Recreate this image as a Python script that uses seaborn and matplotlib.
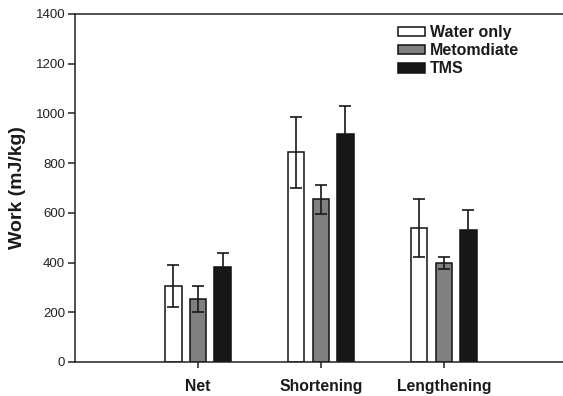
import matplotlib
matplotlib.use("Agg")
import matplotlib.pyplot as plt
import seaborn as sns
import pandas as pd
import numpy as np

# ---- data ----
categories = ["Net", "Shortening", "Lengthening"]
groups = ["Water only", "Metomdiate", "TMS"]
water_vals = [305, 843, 538]
water_err = [84, 143, 117]
meto_vals = [254, 654, 397]
meto_err = [53, 59, 24]
tms_vals = [384, 918, 531]
tms_err = [53, 111, 80]
yticks = [0, 200, 400, 600, 800, 1000, 1200, 1400]

colors = ["#ffffff", "#808080", "#181818"]

sns.set_theme(style="white")
plt.rcParams["font.family"] = ["Liberation Sans", "DejaVu Sans"]

rows = []
for g, vals, errs in [(groups[0], water_vals, water_err),
                      (groups[1], meto_vals, meto_err),
                      (groups[2], tms_vals, tms_err)]:
    for c, v, e in zip(categories, vals, errs):
        rows.append({"Category": c, "Group": g, "Work": v, "Err": e})
df = pd.DataFrame(rows)

fig = plt.figure(figsize=(5.63, 3.96), dpi=100)
ax = fig.add_axes([75 / 563, 1 - 362 / 396, 1 - 75 / 563, (362 - 14) / 396])

sns.barplot(data=df, x="Category", y="Work", hue="Group", order=categories,
            hue_order=groups, palette=colors, edgecolor="#111111", linewidth=1.1,
            width=0.6, gap=0.33, errorbar=None, ax=ax, legend=True)

# error bars from data at bar centres
for cont, g in zip(ax.containers, groups):
    sub = df[df["Group"] == g].set_index("Category").loc[categories]
    xs = [p.get_x() + p.get_width() / 2 for p in cont.patches]
    ax.errorbar(xs, sub["Work"].values, yerr=sub["Err"].values, fmt="none",
                ecolor="#181818", elinewidth=1.2, capsize=4, capthick=1.2,
                zorder=5)

ax.set_xlim(-1, 2.97)
ax.set_ylim(0, 1400)
ax.set_yticks(yticks)
ax.set_yticklabels([str(t) for t in yticks], fontsize=9.5, color="#222222")
ax.set_xticks(range(len(categories)))
ax.set_xticklabels(categories, fontsize=11.3, fontweight="bold", color="#1a1a1a")
ax.set_xlabel("")
ax.set_ylabel("Work (mJ/kg)", fontsize=14, fontweight="bold", color="#1a1a1a",
              labelpad=7)

for side in ["left", "bottom", "top"]:
    ax.spines[side].set_visible(True)
    ax.spines[side].set_color("#222222")
    ax.spines[side].set_linewidth(1.1)
ax.spines["right"].set_visible(False)
ax.tick_params(axis="y", direction="out", length=5, width=1.1, color="#222222",
               left=True, pad=2)
ax.tick_params(axis="x", direction="out", length=4, width=1.1, color="#222222",
               bottom=True, pad=8)

handles, labels = ax.get_legend_handles_labels()
leg = ax.legend(handles, labels, loc="upper left",
                bbox_to_anchor=(398 / 563, 1 - 25 / 396),
                bbox_transform=fig.transFigure, frameon=False,
                prop={"weight": "bold", "size": 11.5},
                handlelength=1.7, handleheight=0.55, handletextpad=0.3,
                labelspacing=0.2, borderpad=0, borderaxespad=0)
for t in leg.get_texts():
    t.set_color("#1a1a1a")

fig.savefig("out.png", dpi=100)
